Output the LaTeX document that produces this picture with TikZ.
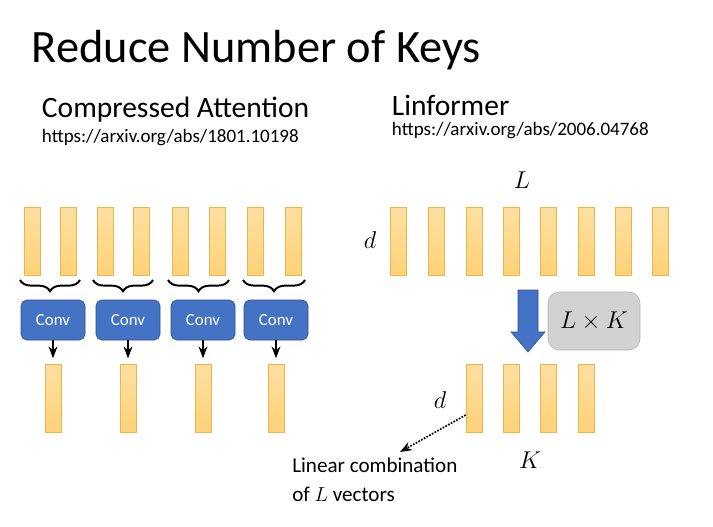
\documentclass[tikz,border=0pt]{standalone}
\usepackage{fontspec}
\setmainfont{Carlito}
\usetikzlibrary{arrows.meta,decorations.pathreplacing,positioning}
\definecolor{barfill}{HTML}{FFD27A}
\definecolor{barline}{HTML}{F2B544}
\definecolor{convblue}{HTML}{4472C4}
\tikzset{
  bar/.style={draw=barline,top color=barfill!70,bottom color=barfill,minimum width=16*0.025cm,minimum height=68*0.025cm,inner sep=0pt},
  conv/.style={draw=convblue!70!black,fill=convblue,rounded corners=4pt,minimum width=64*0.025cm,minimum height=40*0.025cm,text=white,font=\large},
  down/.style={-{Stealth},very thick}
}
\begin{document}
\begin{tikzpicture}[x=0.025cm,y=-0.025cm]
\useasboundingbox (0,0) rectangle (713,527);
% Titel
\node[anchor=west,font=\fontsize{33}{38}\selectfont] (title) at (27,50) {Reduce Number of Keys};
\node[anchor=west,font=\fontsize{21}{24}\selectfont] (ca) at (37,110) {Compressed Attention};
\node[anchor=west,font=\fontsize{13.5}{16}\selectfont] (caurl) at (37,138) {https://arxiv.org/abs/1801.10198};
\node[anchor=west,font=\fontsize{21}{24}\selectfont] (lin) at (387,105) {Linformer};
\node[anchor=west,font=\fontsize{13.5}{16}\selectfont] (linurl) at (387,131) {https://arxiv.org/abs/2006.04768};
% Compressed Attention
\foreach \i/\xa/\xb/\xc/\xo in {1/32/68/53/53, 2/105/141/128/128, 3/180/217/203/203, 4/255/293/276/276}{
  \node[bar] (a\i) at (\xa,241) {};
  \node[bar] (b\i) at (\xb,241) {};
  \draw[line width=1.4pt,decorate,decoration={brace,mirror,amplitude=8pt}] (\xa-12,280) -- (\xb+12,280);
  \node[conv] (conv\i) at (\xc,320) {Conv};
  \node[bar] (o\i) at (\xo,398) {};
  \draw[down] (conv\i.south) -- ++(0,18);
}
% Linformer
\node[font=\LARGE] (L) at (522,180) {$L$};
\node[font=\LARGE] (d1) at (370,240) {$d$};
\foreach \i/\x in {1/398,2/436,3/474,4/511,5/548,6/586,7/623,8/660}{
  \node[bar] (l\i) at (\x,241) {};
}
\coordinate (proj) at (528,290);
\draw[draw=convblue!70!black,fill=convblue] (proj) ++(-10,0) -- ++(20,0) -- ++(0,42) -- ++(7,0) -- (528,352) -- (511,332) -- (518,332) -- cycle;
\node[draw=gray!60,fill=gray!35,rounded corners=8pt,minimum width=92*0.025cm,minimum height=58*0.025cm,font=\LARGE] (lk) at (594,321) {$L\times K$};
\foreach \i/\x in {1/474,2/511,3/548,4/586}{
  \node[bar] (k\i) at (\x,398) {};
}
\node[font=\LARGE] (d2) at (440,400) {$d$};
\node[font=\LARGE] (K) at (530,460) {$K$};
\coordinate (comb) at (400,452);
\draw[-{Stealth},line width=1.2pt,densely dotted] (k1.west|-0,415) -- (comb);
\node[anchor=north west,align=left,font=\fontsize{15}{20.5}\selectfont,inner sep=0pt] (txt) at (292,458) {Linear combination\\of $L$ vectors};
\end{tikzpicture}
\end{document}
